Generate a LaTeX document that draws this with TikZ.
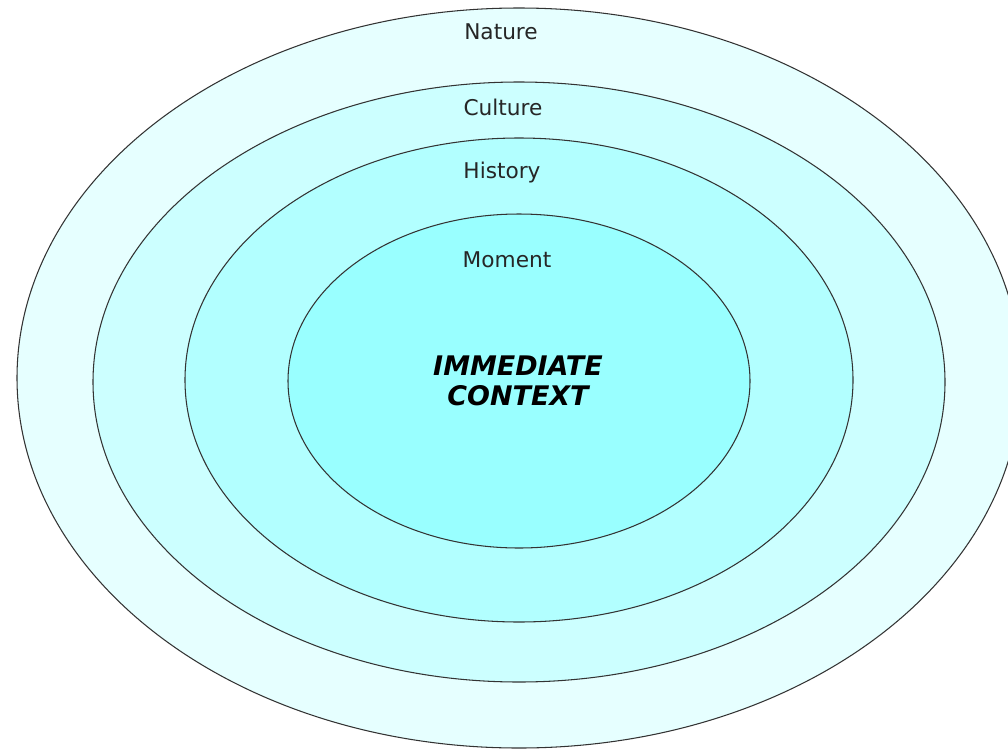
\documentclass[tikz,border=0pt]{standalone}
\usepackage{fontspec}
\setmainfont{DejaVu Sans}
\usetikzlibrary{positioning}
\definecolor{cnature}{RGB}{230,255,255}
\definecolor{cculture}{RGB}{204,255,255}
\definecolor{chistory}{RGB}{178,255,255}
\definecolor{cmoment}{RGB}{153,255,255}
\definecolor{cline}{HTML}{333333}
\tikzset{
  every picture/.style={line width=0.9pt},
  ring/.style={draw=cline, fill=#1},
  layer/.style={font=\fontsize{18.5}{22}\selectfont, text=black!85, inner sep=0pt, anchor=base},
  core/.style={font=\fontsize{23}{25.6}\selectfont\bfseries\itshape, align=center, inner sep=0pt, anchor=base},
}

\begin{document}
\begin{tikzpicture}[x=0.03cm, y=-0.03cm]
  \clip (0,0) rectangle (1008,750);
  \fill[white] (0,0) rectangle (1008,750);
  \def\cx{519}
  \foreach \c/\cy/\rx/\ry in {cnature/378/502/370, cculture/382/426/300, chistory/380/334/242, cmoment/381/231/167}
    \filldraw[ring=\c] (\cx,\cy) ellipse[x radius=\rx, y radius=\ry];
  \node[layer] (nature) at (501,39.5) {Nature};
  \node[layer] (culture) at (503,115) {Culture};
  \node[layer] (history) at (502,178) {History};
  \node[layer] (moment) at (507,267) {Moment};
  \node[core] (core) at (518,405) {IMMEDIATE\\CONTEXT};
\end{tikzpicture}
\end{document}
